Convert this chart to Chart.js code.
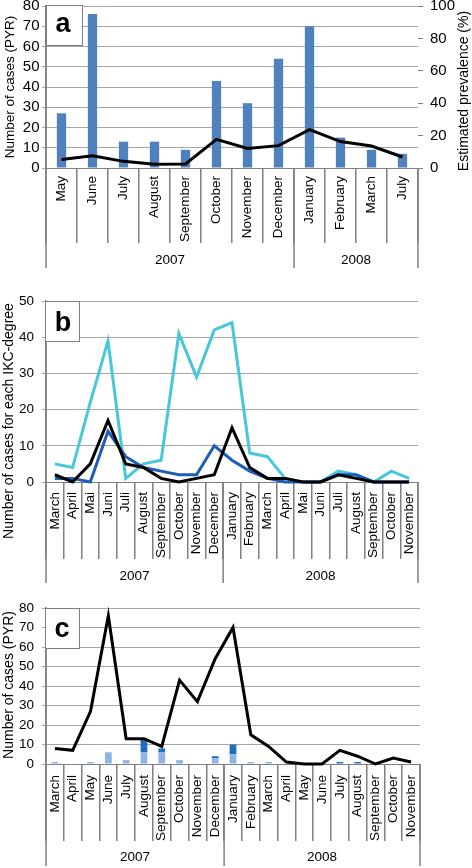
<!DOCTYPE html>
<html><head><meta charset="utf-8">
<script src="https://cdn.jsdelivr.net/npm/chart.js@4.4.1/dist/chart.umd.min.js"></script>
<style>
html,body{margin:0;padding:0;background:#fff;}
body{width:472px;height:868px;position:relative;overflow:hidden;}
canvas{position:absolute;left:0;}
</style></head><body>
<canvas id="ca" width="472" height="295" style="top:0px"></canvas>
<canvas id="cb" width="472" height="290" style="top:295px"></canvas>
<canvas id="cc" width="472" height="283" style="top:585px"></canvas>
<script>
// ---------- DATA ----------
const monthsA = ['May','June','July','August','September','October','November','December','January','February','March','July'];
const yearsA = [{label:'2007', from:0, to:8}, {label:'2008', from:8, to:12}];
const casesA = [27,76,13,13,9,43,32,54,70,15,9,7];
const prevalenceA = [5.3,7.6,4.1,2.3,2.5,17.7,12.1,13.8,23.7,16.3,13.6,6.8];

const monthsB = ['March','April','Mai','Juni','Juli','August','September','October','November','December','January','February','March','April','Mai','Juni','Juli','August','September','October','November'];
const ikcLight = [5,4,22,39,1,5,6,41,29,42,44,8,7,1,0,0,3,2,0,3,1];
const ikcMid = [1,1,0,14,7,4,3,2,2,10,6,3,1,0,0,0,2,2,0,0,0];
const ikcHigh = [2,0,5,17,5,4,1,0,1,2,15,4,1,1,0,0,2,1,0,0,0];

const monthsC = ['March','April','May','June','July','August','September','October','November','December','January','February','March','April','May','June','July','August','September','October','November'];
const pyrCases = [8,7,27,76,13,13,9,43,32,54,70,15,9,1,0,0,7,4,0,3,1];
const barsLight = [1,0,1,6,2,6,6,2,0,3,5,1,1,0,0,0,0,0,0,0,0];
const barsDark = [0,0,0,0,0,7,2,0,0,1,5,0,0,0,0,0,1,1,0,0,0];
const yearsBC = [{label:'2007', from:0, to:10}, {label:'2008', from:10, to:21}];

const yTicksA = {min:0, max:80, step:10};
const y1TicksA = {min:0, max:100, step:20};
const yTicksB = {min:0, max:50, step:10};
const yTicksC = {min:0, max:80, step:10};

// ---------- STYLE ----------
const FONT = "'Liberation Sans', Arial, Helvetica, sans-serif";
Chart.defaults.font.family = FONT;
Chart.defaults.color = '#000';
Chart.defaults.animation = false;
const GRID = '#a6a6a6';
const AXIS = '#808080';

function makeDeco(cfg) {
  return {
    id: 'deco',
    afterDraw(chart) {
      const ctx = chart.ctx, xs = chart.scales.x, area = chart.chartArea;
      const step = xs.getPixelForValue(1) - xs.getPixelForValue(0);
      const edge = i => xs.getPixelForValue(i) - step / 2;
      ctx.save();
      ctx.strokeStyle = AXIS; ctx.lineWidth = 1.5;
      ctx.beginPath();
      ctx.moveTo(edge(0), area.top); ctx.lineTo(edge(0), cfg.yearBottom);
      cfg.years.forEach(y => { const x = edge(y.to); ctx.moveTo(x, area.bottom); ctx.lineTo(x, cfg.yearBottom); });
      ctx.stroke();
      ctx.fillStyle = '#000';
      ctx.font = '13.5px ' + FONT;
      ctx.textAlign = 'center'; ctx.textBaseline = 'middle';
      cfg.years.forEach(y => ctx.fillText(y.label, (edge(y.from) + edge(y.to)) / 2, cfg.yearY));
      cfg.titles.forEach(t => {
        ctx.save(); ctx.translate(t.x, t.y); ctx.rotate(-Math.PI / 2);
        ctx.font = t.size + 'px ' + FONT; ctx.textAlign = 'center'; ctx.textBaseline = 'middle';
        ctx.fillText(t.text, 0, 0); ctx.restore();
      });
      const b = cfg.box;
      ctx.fillStyle = '#fff'; ctx.fillRect(b.x1, b.y1, b.x2 - b.x1, b.y2 - b.y1);
      ctx.strokeStyle = '#7f7f7f'; ctx.lineWidth = 1;
      ctx.strokeRect(Math.round(b.x1) + 0.5, Math.round(b.y1) + 0.5, Math.round(b.x2 - b.x1), Math.round(b.y2 - b.y1));
      ctx.fillStyle = '#000'; ctx.font = 'bold 27px ' + FONT;
      ctx.textAlign = 'center'; ctx.textBaseline = 'alphabetic';
      ctx.fillText(cfg.letter, b.lx, b.ly);
      ctx.restore();
    }
  };
}

function xScale(labels, xHeight, sepLen, labelGap) {
  return {
    type: 'category', labels: labels, offset: true,
    grid: {display: true, offset: true, drawOnChartArea: false, drawTicks: true, tickLength: sepLen, color: AXIS, lineWidth: 1.5},
    border: {display: true, color: AXIS, width: 1},
    ticks: {autoSkip: false, minRotation: 90, maxRotation: 90, padding: labelGap - sepLen, font: {size: 13.5}, color: '#000'},
    afterFit: s => { s.height = xHeight; s.paddingLeft = 0; s.paddingRight = 0; }
  };
}
function yScale(t, fontSize, pad, position, width, onArea) {
  return {
    position: position, min: t.min, max: t.max,
    grid: {display: true, drawOnChartArea: onArea, drawTicks: true, tickLength: position === 'left' ? 4 : 5, color: onArea ? GRID : AXIS, lineWidth: 1},
    border: {display: position === 'left', color: AXIS, width: 1.5},
    ticks: {stepSize: t.step, autoSkip: false, padding: pad, font: {size: fontSize}, color: '#000'},
    afterFit: s => { s.width = width; s.paddingTop = 0; s.paddingBottom = 0; }
  };
}
const common = {
  responsive: false, maintainAspectRatio: false, animation: false,
  plugins: {legend: {display: false}, tooltip: {enabled: false}, title: {display: false}}
};

// ---------- PANEL A ----------
new Chart(document.getElementById('ca'), {
  type: 'bar',
  data: {
    labels: monthsA,
    datasets: [
      {type: 'line', data: prevalenceA, yAxisID: 'y1', borderColor: '#000', borderWidth: 3, pointRadius: 0, tension: 0, order: 0, clip: false},
      {type: 'bar', data: casesA, yAxisID: 'y', backgroundColor: '#4f81bd', barPercentage: 0.3, categoryPercentage: 1, order: 1}
    ]
  },
  options: Object.assign({}, common, {
    layout: {padding: {top: 6, right: 0, left: 0, bottom: 0}},
    scales: {
      x: xScale(monthsA, 127, 75, 8),
      y: yScale(yTicksA, 15, 2.5, 'left', 46, true),
      y1: yScale(y1TicksA, 15, 7, 'right', 54, false)
    }
  }),
  plugins: [makeDeco({
    years: yearsA, yearBottom: 268, yearY: 260,
    titles: [{text: 'Number of cases (PYR)', x: 10, y: 87, size: 13.5}, {text: 'Estimated prevalence (%)', x: 464, y: 91, size: 14}],
    box: {x1: 46, y1: 5, x2: 82, y2: 45, lx: 63, ly: 32}, letter: 'a'
  })]
});

// ---------- PANEL B ----------
new Chart(document.getElementById('cb'), {
  type: 'line',
  data: {
    labels: monthsB,
    datasets: [
      {data: ikcHigh, borderColor: '#000000', borderWidth: 3, pointRadius: 0, tension: 0, order: 0, clip: false},
      {data: ikcMid, borderColor: '#1d5cb8', borderWidth: 3, pointRadius: 0, tension: 0, order: 1, clip: false},
      {data: ikcLight, borderColor: '#48c6da', borderWidth: 3, pointRadius: 0, tension: 0, order: 2, clip: false}
    ]
  },
  options: Object.assign({}, common, {
    layout: {padding: {top: 6, right: 54, left: 0, bottom: 0}},
    scales: {
      x: xScale(monthsB, 103, 77, 10),
      y: yScale(yTicksB, 13.5, 8, 'left', 46, true)
    }
  }),
  plugins: [makeDeco({
    years: yearsBC, yearBottom: 288, yearY: 281,
    titles: [{text: 'Number of cases for each IKC-degree', x: 9, y: 126, size: 14}],
    box: {x1: 45, y1: 6, x2: 79, y2: 46, lx: 63, ly: 36}, letter: 'b'
  })]
});

// ---------- PANEL C ----------
new Chart(document.getElementById('cc'), {
  type: 'bar',
  data: {
    labels: monthsC,
    datasets: [
      {type: 'line', data: pyrCases, stack: 'line', borderColor: '#000', borderWidth: 3, pointRadius: 0, tension: 0, order: 0, clip: false},
      {type: 'bar', data: barsLight, stack: 'bars', backgroundColor: '#8eb4e3', barPercentage: 0.38, categoryPercentage: 1, order: 1},
      {type: 'bar', data: barsDark, stack: 'bars', backgroundColor: '#1f6ec2', barPercentage: 0.38, categoryPercentage: 1, order: 2}
    ]
  },
  options: Object.assign({}, common, {
    layout: {padding: {top: 23, right: 52, left: 0, bottom: 0}},
    scales: {
      x: Object.assign(xScale(monthsC, 104, 77, 11), {stacked: true}),
      y: Object.assign(yScale(yTicksC, 13.5, 8, 'left', 46, true), {stacked: true})
    }
  }),
  plugins: [makeDeco({
    years: yearsBC, yearBottom: 281, yearY: 272,
    titles: [{text: 'Number of cases (PYR)', x: 9.5, y: 100, size: 14}],
    box: {x1: 45, y1: 23, x2: 79, y2: 63, lx: 62, ly: 52}, letter: 'c'
  })]
});
</script>
</body></html>
